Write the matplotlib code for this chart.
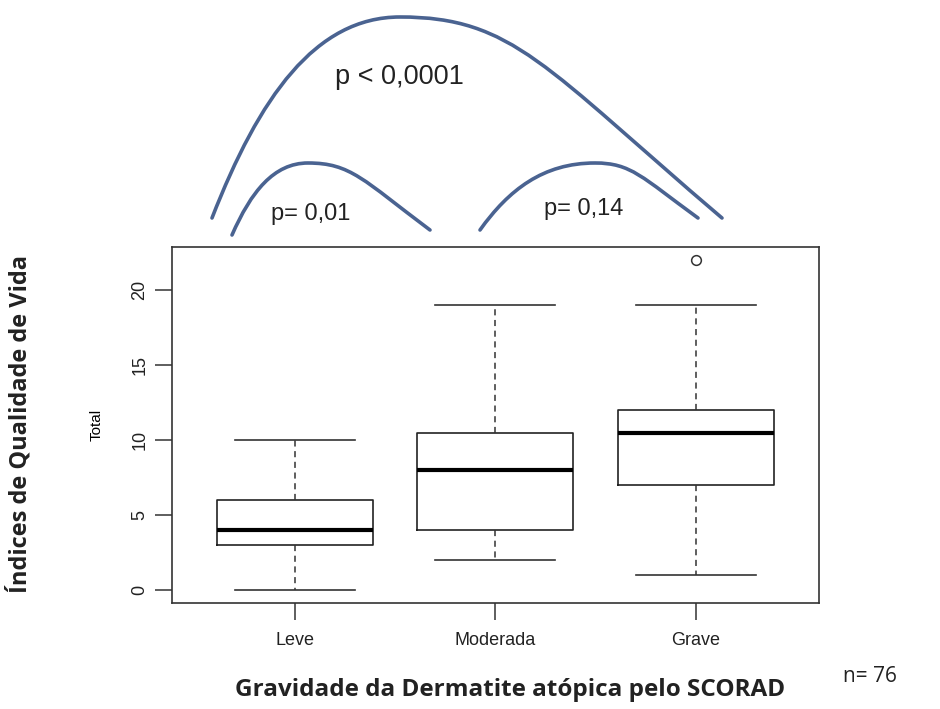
import matplotlib.pyplot as plt
from matplotlib.path import Path
from matplotlib.patches import PathPatch

# box statistics
groups = ['Leve', 'Moderada', 'Grave']
whislo = [0, 2, 1]
q1 = [3, 4, 7]
med = [4, 8, 10.5]
q3 = [6, 10.5, 12]
whishi = [10, 19, 19]
fliers = [[], [], [22]]

# significance arcs (figure pixels: start, peak, end) and their labels
arcs = [
    [(212, 218), (400, 17), (722, 218)],
    [(232, 235), (308, 163), (430, 230)],
    [(480, 230), (595, 163), (698, 218)],
]
p_labels = ['p < 0,0001', 'p= 0,01', 'p= 0,14']
p_pos = [(399, 77), (311, 214), (584, 209)]

fig = plt.figure(figsize=(9.4, 7.09), dpi=100)
ax = fig.add_axes([0.183, 0.1495, 0.688, 0.502])

stats = []
for i, g in enumerate(groups):
    stats.append(dict(label=g, whislo=whislo[i], q1=q1[i], med=med[i],
                      q3=q3[i], whishi=whishi[i], fliers=fliers[i]))

ax.bxp(stats, positions=[1, 2, 3], widths=0.78, showfliers=True,
       boxprops=dict(color='#222222', linewidth=1.2),
       medianprops=dict(color='black', linewidth=3),
       whiskerprops=dict(color='#333333', linewidth=1.1, linestyle=(0, (4, 3))),
       capprops=dict(color='#333333', linewidth=1.2),
       capwidths=0.6,
       flierprops=dict(marker='o', markerfacecolor='none', markeredgecolor='#333333',
                       markersize=7, markeredgewidth=1.1))

ax.set_xlim(0.385, 3.615)
ax.set_ylim(-0.88, 22.88)
ax.set_yticks([0, 5, 10, 15, 20])
for s in ax.spines.values():
    s.set_color('#333333')
    s.set_linewidth(1.2)
ax.tick_params(length=12, width=1.1, color='#333333', labelsize=13)
ax.tick_params(axis='x', pad=9)
ax.tick_params(axis='y', pad=5)
for t in ax.get_xticklabels() + ax.get_yticklabels():
    t.set_family('Liberation Sans')
    t.set_color('#222222')
for t in ax.get_yticklabels():
    t.set_rotation(90)
    t.set_va('center')
ax.set_ylabel('Total', family='Liberation Sans', fontsize=11, labelpad=20)

# overlay for arcs and free text
ann = fig.add_axes([0, 0, 1, 1], zorder=-1)
ann.set_xlim(0, 940)
ann.set_ylim(709, 0)
ann.axis('off')

for (x0, y0), (xp, yp), (x1, y1) in arcs:
    verts = [(x0, y0),
             (x0 + 0.25 * (xp - x0), y0 - 0.6 * (y0 - yp)),
             (xp - 0.45 * (xp - x0), yp),
             (xp, yp),
             (xp + 0.35 * (x1 - xp), yp),
             (x1 - 0.55 * (x1 - xp), y1 - 0.75 * (y1 - yp)),
             (x1, y1)]
    codes = [Path.MOVETO] + [Path.CURVE4] * 6
    ann.add_patch(PathPatch(Path(verts, codes), facecolor='none',
                            edgecolor='#4a6391', linewidth=2.6, capstyle='round'))

sizes = [19.5, 17, 17]
for lab, (x, y), fs in zip(p_labels, p_pos, sizes):
    ann.text(x, y, lab, ha='center', va='center', fontsize=fs,
             family='Liberation Sans', color='#222222')

ann.text(870, 677, 'n= 76', ha='center', va='center', fontsize=15,
         family='Open Sans', color='#222222')
ann.text(510, 690, 'Gravidade da Dermatite atópica pelo SCORAD', ha='center',
         va='center', fontsize=17.5, family='Open Sans', fontweight='bold', color='#222222')
ann.text(20, 424, 'Índices de Qualidade de Vida', ha='center', va='center',
         rotation=90, fontsize=17, family='Open Sans', fontweight='bold', color='#222222')

fig.savefig('out.png', dpi=100, facecolor='white')
